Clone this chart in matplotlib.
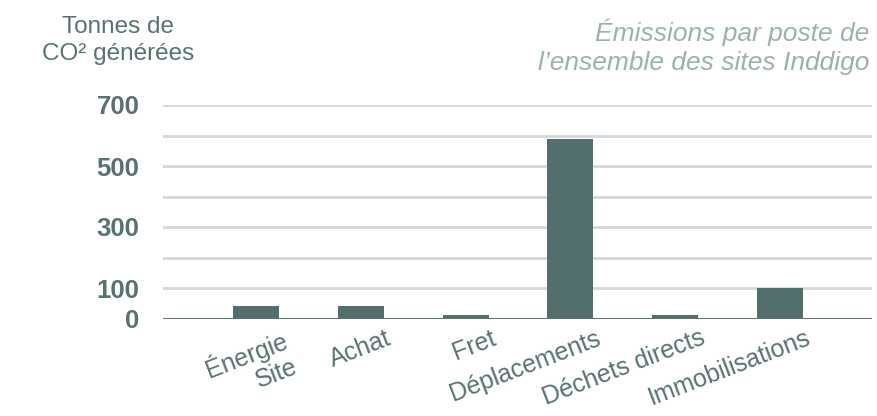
import matplotlib
matplotlib.use("Agg")
import matplotlib.pyplot as plt
from matplotlib.transforms import ScaledTranslation

categories = ["Énergie\nSite", "Achat", "Fret", "Déplacements", "Déchets directs", "Immobilisations"]
values = [41, 41, 13, 590, 13, 100]
ytick_labels = [0, 100, 300, 500, 700]
grid_levels = [100, 200, 300, 400, 500, 600, 700]

bar_color = "#536f6d"
text_color = "#577371"
grid_color = "#cfd9d6"
title_color = "#9ab2ae"

plt.rcParams['font.family'] = ['Liberation Sans', 'DejaVu Sans']

fig = plt.figure(figsize=(8.77, 4.16), dpi=100)
ax = fig.add_axes([163/877, 1 - 318.5/416, (872 - 163)/877, (318.5 - 105)/416])

x = list(range(len(categories)))
for g in grid_levels:
    ax.axhline(g, color=grid_color, lw=2, zorder=0)
ax.bar(x, values, width=0.44, color=bar_color, zorder=2)
ax.axhline(0, color="#5a7472", lw=2.2, zorder=3)

ax.set_xlim(-0.89, 5.88)
ax.set_ylim(0, 700)
for s in ax.spines.values():
    s.set_visible(False)

ax.set_yticks(ytick_labels)
ax.set_yticklabels([str(v) for v in ytick_labels], fontsize=18.5, fontweight='bold', color=text_color)
ax.tick_params(axis='y', length=0, pad=17)

ax.set_xticks(x)
ax.set_xticklabels(categories, rotation=21, ha='right', rotation_mode='anchor',
                   fontsize=18, color=text_color, multialignment='right', linespacing=1.15)
ax.tick_params(axis='x', length=0, pad=4)
offset = ScaledTranslation(25/100, -2/100, fig.dpi_scale_trans)
for lbl in ax.get_xticklabels():
    lbl.set_transform(lbl.get_transform() + offset)

fig.text(118/877, 1 - 60/416, "Tonnes de\nCO² générées", ha='center', va='baseline',
         fontsize=17.5, color=text_color, linespacing=1.3)
fig.text(869/877, 1 - 70/416, "Émissions par poste de\nl’ensemble des sites Inddigo", ha='right',
         va='baseline', fontsize=19, style='italic', color=title_color, linespacing=1.27)

fig.savefig("out.png", dpi=100)
